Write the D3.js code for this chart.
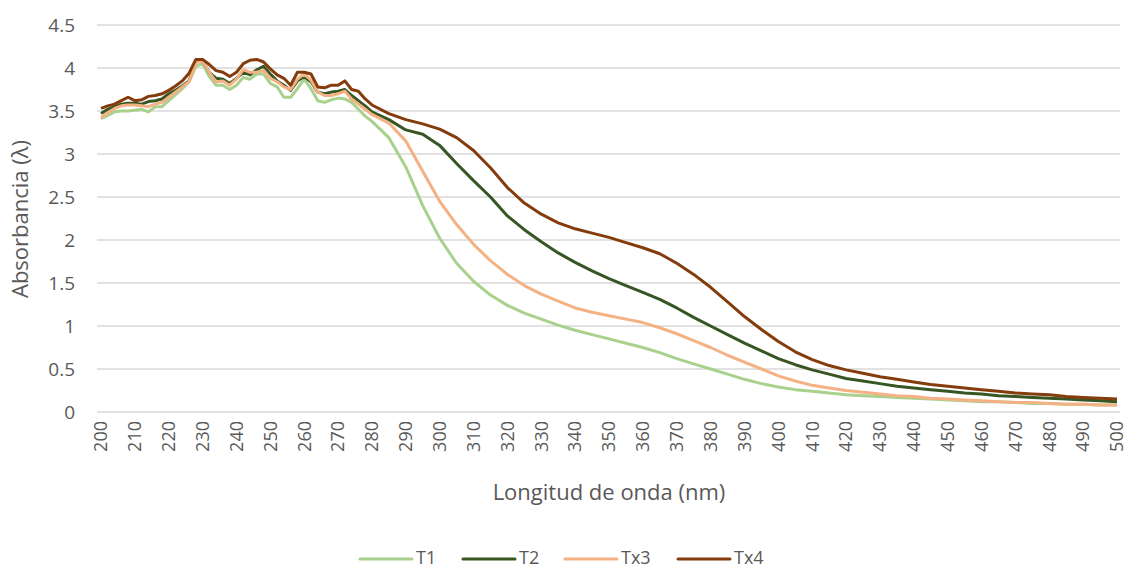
<!DOCTYPE html>
<html>
    <head>
        <title>Absorbancia</title>
        <style>
            body { margin: 0; background: #fff; }
            text { font-family: "Open Sans", "Liberation Sans", sans-serif; fill: #595959; }
        </style>
    </head>
    <body>
        <svg></svg>
        <script src="https://d3js.org/d3.v7.min.js"></script>
        <script>
            // wavelengths: every 2 nm up to 280, then every 5 nm
            var wavelengths = d3.range(200, 281, 2).concat(d3.range(285, 501, 5));

            var t1 = [3.41,3.45,3.49,3.50,3.50,3.51,3.52,3.49,3.55,3.55,3.62,3.69,3.76,3.84,4.02,4.05,3.90,3.80,3.80,3.75,3.80,3.89,3.87,3.93,3.93,3.82,3.78,3.66,3.66,3.76,3.87,3.76,3.62,3.60,3.63,3.65,3.64,3.60,3.52,3.44,3.38,
                3.19,2.85,2.40,2.02,1.73,1.52,1.36,1.24,1.15,1.08,1.01,0.95,0.90,0.85,0.80,0.75,0.69,0.62,0.56,0.50,0.44,0.38,0.33,0.29,0.26,0.24,0.22,0.20,0.19,0.18,0.17,0.16,0.15,0.14,0.13,0.12,0.12,0.11,0.10,0.10,0.09,0.09,0.08,0.08];
            var t2 = [3.47,3.52,3.55,3.58,3.59,3.59,3.58,3.61,3.62,3.64,3.70,3.74,3.79,3.85,4.08,4.08,3.95,3.88,3.87,3.82,3.88,3.95,3.92,3.98,4.02,3.93,3.85,3.80,3.74,3.85,3.90,3.84,3.72,3.70,3.72,3.73,3.75,3.68,3.62,3.56,3.49,
                3.40,3.28,3.23,3.10,2.89,2.69,2.50,2.28,2.12,1.98,1.85,1.74,1.64,1.55,1.47,1.39,1.31,1.21,1.10,1.00,0.90,0.80,0.71,0.62,0.55,0.49,0.44,0.39,0.36,0.33,0.30,0.28,0.26,0.24,0.22,0.21,0.19,0.18,0.17,0.16,0.15,0.14,0.13,0.12];
            var tx3 = [3.42,3.48,3.53,3.56,3.57,3.57,3.56,3.55,3.58,3.60,3.66,3.72,3.78,3.84,4.06,4.08,3.95,3.84,3.85,3.80,3.87,3.98,3.95,3.95,3.97,3.88,3.84,3.78,3.75,3.87,3.93,3.86,3.72,3.68,3.68,3.70,3.73,3.64,3.58,3.52,3.46,
                3.36,3.15,2.80,2.45,2.18,1.95,1.76,1.60,1.47,1.37,1.29,1.21,1.16,1.12,1.08,1.04,0.98,0.91,0.83,0.75,0.66,0.58,0.50,0.42,0.36,0.31,0.28,0.25,0.23,0.21,0.19,0.18,0.16,0.15,0.14,0.13,0.12,0.11,0.11,0.10,0.09,0.09,0.08,0.08];
            var tx4 = [3.53,3.56,3.58,3.62,3.66,3.62,3.63,3.67,3.68,3.70,3.74,3.79,3.85,3.94,4.10,4.10,4.04,3.97,3.95,3.90,3.95,4.05,4.09,4.10,4.07,3.99,3.92,3.88,3.80,3.95,3.95,3.93,3.78,3.77,3.80,3.80,3.85,3.75,3.73,3.64,3.57,
                3.47,3.40,3.35,3.29,3.19,3.04,2.84,2.61,2.43,2.30,2.20,2.13,2.08,2.03,1.97,1.91,1.84,1.73,1.60,1.45,1.28,1.11,0.96,0.82,0.70,0.61,0.54,0.49,0.45,0.41,0.38,0.35,0.32,0.30,0.28,0.26,0.24,0.22,0.21,0.20,0.18,0.17,0.16,0.15];

            var seriesNames = ["T1", "T2", "Tx3", "Tx4"];
            var seriesValues = [t1, t2, tx3, tx4];
            var colors = ["#a9d18e", "#375623", "#f4b183", "#843c0c"];

            var xTicks = d3.range(200, 501, 10);
            var yTicks = [0, 0.5, 1, 1.5, 2, 2.5, 3, 3.5, 4, 4.5];

            var svg = d3.select("svg")
                .attr("width", 1127)
                .attr("height", 569);

            var x = d3.scaleLinear().domain([200, 500]).range([101, 1117]);
            var y = d3.scaleLinear().domain([0, 4.5]).range([412, 25]);

            // gridlines
            svg.append("g").selectAll("line")
                .data(yTicks).enter().append("line")
                .attr("x1", 97).attr("x2", 1120)
                .attr("y1", function(d){ return y(d); })
                .attr("y2", function(d){ return y(d); })
                .attr("stroke", "#d9d9d9")
                .attr("stroke-width", 1.3);

            // y tick labels
            svg.append("g").selectAll("text")
                .data(yTicks).enter().append("text")
                .attr("x", 75)
                .attr("y", function(d){ return y(d); })
                .attr("dy", "0.35em")
                .attr("text-anchor", "end")
                .style("font-size", "19px")
                .text(function(d){ return d; });

            // x tick labels, rotated
            svg.append("g").selectAll("text")
                .data(xTicks).enter().append("text")
                .attr("transform", function(d){ return "translate(" + x(d) + ",421) rotate(-90)"; })
                .attr("dy", "0.35em")
                .attr("text-anchor", "end")
                .style("font-size", "18px")
                .text(function(d){ return d; });

            // axis titles
            svg.append("text")
                .attr("x", 609).attr("y", 500)
                .attr("text-anchor", "middle")
                .style("font-size", "22px")
                .text("Longitud de onda (nm)");

            svg.append("text")
                .attr("transform", "translate(28,219) rotate(-90)")
                .attr("text-anchor", "middle")
                .style("font-size", "22px")
                .text("Absorbancia (λ)");

            // lines
            var line = d3.line()
                .x(function(d){ return x(d[0]); })
                .y(function(d){ return y(d[1]); });

            seriesValues.forEach(function(vals, i){
                var pts = wavelengths.map(function(w, j){ return [w, vals[j]]; });
                svg.append("path")
                    .datum(pts)
                    .attr("d", line)
                    .attr("fill", "none")
                    .attr("stroke", colors[i])
                    .attr("stroke-width", 3)
                    .attr("stroke-linejoin", "round");
            });

            // legend
            var legendX = [360, 463, 565, 678];
            seriesNames.forEach(function(name, i){
                var g = svg.append("g").attr("transform", "translate(" + legendX[i] + ",559)");
                g.append("line")
                    .attr("x1", 0).attr("x2", 52)
                    .attr("stroke", colors[i])
                    .attr("stroke-width", 3)
                    .attr("stroke-linecap", "round");
                g.append("text")
                    .attr("x", 56).attr("y", 5)
                    .style("font-size", "18px")
                    .text(name);
            });
        </script>
    </body>
</html>
